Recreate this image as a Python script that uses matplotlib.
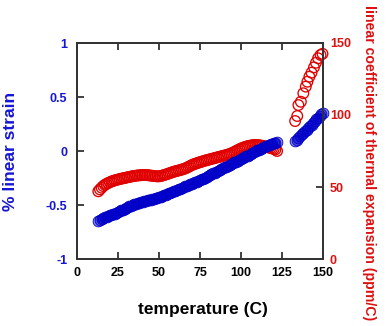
import numpy as np
import matplotlib
matplotlib.use('Agg')
import matplotlib.pyplot as plt

plt.rcParams['font.family'] = ['Liberation Sans', 'DejaVu Sans']
plt.rcParams['font.weight'] = 'bold'

# first heating run, 13-122 C in 1 C steps
temp1 = [13, 14, 15, 16, 17, 18, 19, 20, 21, 22, 23, 24, 25, 26, 27, 28, 29,
         30, 31, 32, 33, 34, 35, 36, 37, 38, 39, 40, 41, 42, 43, 44, 45, 46,
         47, 48, 49, 50, 51, 52, 53, 54, 55, 56, 57, 58, 59, 60, 61, 62, 63,
         64, 65, 66, 67, 68, 69, 70, 71, 72, 73, 74, 75, 76, 77, 78, 79, 80,
         81, 82, 83, 84, 85, 86, 87, 88, 89, 90, 91, 92, 93, 94, 95, 96, 97,
         98, 99, 100, 101, 102, 103, 104, 105, 106, 107, 108, 109, 110, 111,
         112, 113, 114, 115, 116, 117, 118, 119, 120, 121, 122]
strain1 = [-0.645, -0.638, -0.63, -0.622, -0.615, -0.61, -0.605, -0.597,
           -0.59, -0.585, -0.58, -0.572, -0.565, -0.557, -0.55, -0.542,
           -0.535, -0.527, -0.52, -0.512, -0.505, -0.5, -0.495, -0.49,
           -0.485, -0.48, -0.475, -0.47, -0.465, -0.461, -0.458, -0.454,
           -0.45, -0.446, -0.442, -0.437, -0.432, -0.427, -0.422, -0.416,
           -0.41, -0.404, -0.398, -0.391, -0.385, -0.378, -0.372, -0.366,
           -0.36, -0.354, -0.348, -0.341, -0.335, -0.328, -0.322, -0.316,
           -0.31, -0.304, -0.298, -0.291, -0.285, -0.278, -0.27, -0.263,
           -0.255, -0.248, -0.24, -0.232, -0.224, -0.216, -0.208, -0.2,
           -0.192, -0.184, -0.176, -0.168, -0.16, -0.152, -0.145, -0.137,
           -0.13, -0.122, -0.114, -0.106, -0.098, -0.09, -0.082, -0.074,
           -0.066, -0.058, -0.05, -0.042, -0.034, -0.026, -0.018, -0.01,
           -0.002, 0.006, 0.013, 0.021, 0.028, 0.036, 0.043, 0.05, 0.057,
           0.063, 0.068, 0.073, 0.078, 0.085]
cte1 = [47.0, 48.3, 49.5, 50.6, 51.5, 52.2, 52.8, 53.3, 53.8, 54.2, 54.6,
        54.9, 55.2, 55.5, 55.8, 56.0, 56.3, 56.5, 56.8, 57.0, 57.3, 57.5,
        57.7, 57.9, 58.0, 58.1, 58.2, 58.3, 58.3, 58.3, 58.2, 58.1, 57.9,
        57.8, 57.6, 57.5, 57.4, 57.4, 57.6, 57.9, 58.3, 58.6, 59.0, 59.4,
        59.8, 60.2, 60.6, 60.9, 61.2, 61.5, 61.8, 62.1, 62.5, 62.9, 63.4,
        64.0, 64.6, 65.2, 65.7, 66.1, 66.5, 66.9, 67.2, 67.6, 67.9, 68.3,
        68.6, 68.9, 69.2, 69.5, 69.8, 70.1, 70.4, 70.7, 71.0, 71.3, 71.6,
        71.9, 72.2, 72.5, 72.9, 73.3, 73.8, 74.4, 75.0, 75.6, 76.2, 76.7,
        77.2, 77.6, 78.0, 78.3, 78.6, 78.8, 79.0, 79.1, 79.2, 79.1, 79.0,
        78.8, 78.6, 78.3, 78.0, 77.7, 77.4, 77.1, 76.8, 76.4, 76.0, 75.0]

# second run above 130 C
temp2_strain = [133, 134, 135, 136, 137, 138, 139, 140, 141, 142, 143, 144,
                145, 146, 147, 148, 149, 150]
strain2 = [0.09, 0.106, 0.122, 0.138, 0.153, 0.168, 0.183, 0.198, 0.214,
           0.23, 0.245, 0.261, 0.276, 0.292, 0.307, 0.322, 0.338, 0.354]
temp2_cte = [133, 134.3, 135, 136.5, 138, 139.5, 140.5, 141.7, 143, 144.5,
             145.7, 147, 148.5, 149.7]
cte2 = [95.8, 99.3, 106.9, 109.2, 115.1, 119.7, 123.1, 126.6, 129.4, 133.1,
        136.3, 139.4, 141.7, 142.5]

blue = '#0000c8'
red = '#e00000'

fig = plt.figure(figsize=(3.9, 3.26), dpi=100)
ax = fig.add_axes([77 / 390, 67 / 326, 246 / 390, 216 / 326])
ax2 = ax.twinx()

ax2.scatter(temp1 + temp2_cte, cte1 + cte2, s=58, facecolors='none',
            edgecolors=red, linewidths=0.95, clip_on=False)
ax.scatter(temp1 + temp2_strain, strain1 + strain2, s=60,
           facecolors=(0, 0, 0.8, 0.45), edgecolors=blue, linewidths=0.6,
           clip_on=False)

# strain on top of the CTE points
ax.set_zorder(ax2.get_zorder() + 1)
ax.patch.set_visible(False)

ax.set_xlim(0, 150)
ax.set_ylim(-1, 1)
ax2.set_ylim(0, 150)
ax.set_xticks([0, 25, 50, 75, 100, 125, 150])
ax.set_yticks([-1, -0.5, 0, 0.5, 1])
ax.set_yticklabels(['-1', '-0.5', '0', '0.5', '1'])
ax2.set_yticks([0, 50, 100, 150])

for a in (ax, ax2):
    for s in a.spines.values():
        s.set_linewidth(1.3)
        s.set_color('#333333')
ax.tick_params(axis='x', direction='in', length=5, width=1.3, top=True,
               labelsize=9, pad=6, color='#333333')
ax.tick_params(axis='y', direction='in', length=5, width=1.3, labelsize=9,
               labelcolor='#1515d5', pad=7, color='#333333')
ax2.tick_params(axis='y', direction='in', length=5, width=1.3, labelsize=9,
                labelcolor='#dd1111', pad=5, color='#333333')

ax.set_xlabel('temperature (C)', fontsize=12.5, fontweight='bold')
ax.xaxis.set_label_coords(0.51, -0.2)
ax.set_ylabel('% linear strain', fontsize=12.5, fontweight='bold',
              color='#1515d5')
ax.yaxis.set_label_coords(-0.24, 0.5)
ax2.set_ylabel('linear coefficient of thermal expansion (ppm/C)',
               fontsize=10.2, fontweight='bold', color='#dd1111', rotation=270,
               va='center')
ax2.yaxis.set_label_coords(1.187, 0.444)

fig.savefig('out.png', dpi=100)
